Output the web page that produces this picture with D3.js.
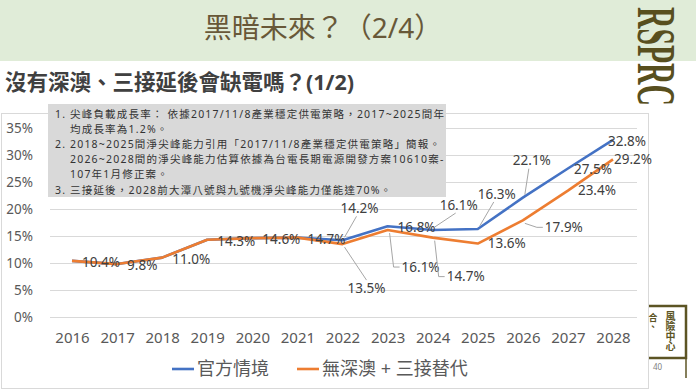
<!DOCTYPE html>
<html><head><meta charset="utf-8">
<script src="https://cdn.jsdelivr.net/npm/d3@7"></script>
<style>
html,body{margin:0;padding:0;background:#fff;}
svg{display:block;}
text{font-family:"Noto Sans","Noto Sans CJK TC",sans-serif;}
</style></head>
<body>
<svg id="c" width="696" height="391"></svg>
<script>
// ---------- data ----------
const years = ['2016','2017','2018','2019','2020','2021','2022','2023','2024','2025','2026','2027','2028'];
const official = [10.4, 9.8, 11.0, 14.3, 14.6, 14.7, 14.2, 16.8, 16.1, 16.3, 22.1, 27.5, 32.8];
const alternative = [10.4, 9.8, 11.0, 14.3, 14.6, 14.7, 13.5, 16.1, 14.7, 13.6, 17.9, 23.4, 29.2];
const yTicks = [0, 5, 10, 15, 20, 25, 30, 35];
const seriesNames = ['官方情境', '無深澳 + 三接替代'];
const title = '黑暗未來？（2/4）';
const subtitle = '沒有深澳、三接延後會缺電嗎？(1/2)';
const notes = [
  ['1.', '尖峰負載成長率： 依據2017/11/8產業穩定供電策略，2017~2025間年'],
  ['',   '均成長率為1.2%。'],
  ['2.', '2018~2025間淨尖峰能力引用「2017/11/8產業穩定供電策略」簡報。'],
  ['',   '2026~2028間的淨尖峰能力估算依據為台電長期電源開發方案10610案-'],
  ['',   '107年1月修正案。'],
  ['3.', '三接延後，2028前大潭八號與九號機淨尖峰能力僅能達70%。']
];

// ---------- layout (label placement, not data) ----------
const blank = null;
const labelLayout = {
  official: [blank, blank, blank, blank, blank, blank,
    {dx:-2, dy:-32, leader:'up'}, {dx:10, dy:1}, {dx:7, dy:-25, leader:'up'},
    {dx:0, dy:-35, leader:'up'}, {dx:-10, dy:-37, leader:'up'}, {dx:6, dy:1}, {dx:-5, dy:1}],
  alternative: [{dx:10, dy:1.5}, {dx:10, dy:1.5}, {dx:10, dy:1.5}, {dx:10, dy:1.5}, {dx:10, dy:1.5}, {dx:10, dy:1.5},
    {dx:5, dy:44, leader:'down'}, {dx:14, dy:37, leader:'elbow'}, {dx:14, dy:39, leader:'elbow'},
    {dx:10, dy:0}, {dx:22, dy:7, leader:'elbow'}, {dx:10, dy:0}, {dx:1, dy:0}]
};
const colors = ['#4472C4', '#ED7D31'];

const svg = d3.select('#c');

// header band
svg.append('rect').attr('x',0).attr('y',0).attr('width',696).attr('height',61).attr('fill','#e0ecd8');
svg.append('text').attr('x',323).attr('y',38).attr('text-anchor','middle')
  .attr('font-size',28).attr('fill','#685838').text(title);

// logo
svg.append('text').attr('transform','translate(638,7) rotate(90)')
  .attr('font-weight','bold')
  .attr('font-size',54).attr('fill','#584f1e')
  .attr('textLength',99).attr('lengthAdjust','spacingAndGlyphs').style('font-family','"Liberation Serif",serif')
  .text('RSPRC');

// subtitle
svg.append('text').attr('x',5).attr('y',90).attr('font-size',21.5).attr('font-weight','bold')
  .attr('fill','#404040').text(subtitle);

// chart frame
svg.append('rect').attr('x',1.5).attr('y',113.5).attr('width',647).attr('height',275)
  .attr('fill','#fff').attr('stroke','#d9d9d9');

// scales
const x = d3.scalePoint().domain(years).range([72, 613]);
const y = d3.scaleLinear().domain([0, 35]).range([317, 128]);

// gridlines
svg.append('g').selectAll('line').data(yTicks).join('line')
  .attr('x1',50).attr('x2',637).attr('y1',d=>y(d)+0.5).attr('y2',d=>y(d)+0.5)
  .attr('stroke','#d9d9d9').attr('stroke-width',1);

// y axis
const ya = svg.append('g').attr('transform','translate(35,0)')
  .call(d3.axisLeft(y).tickValues(yTicks).tickFormat(d=>d+'%').tickSize(0).tickPadding(2));
ya.select('.domain').remove();
ya.selectAll('text').attr('font-size',13.5).attr('fill','#595959').style('font-family','"Noto Sans",sans-serif');

// x axis
const xa = svg.append('g').attr('transform','translate(0,331)')
  .call(d3.axisBottom(x).tickSize(0).tickPadding(0));
xa.select('.domain').remove();
xa.selectAll('text').attr('font-size',15).attr('fill','#595959').attr('dy','0.35em').attr('y',7)
  .style('font-family','"Noto Sans",sans-serif');

// notes box
svg.append('rect').attr('x',48).attr('y',104).attr('width',398).attr('height',93).attr('fill','#d9d9d9');
const nt = svg.append('g').attr('font-size',10.5).attr('fill','#333').attr('letter-spacing',1.2);
notes.forEach((n,i)=>{
  const yy = 117.5 + i*15.2;
  if(n[0]) nt.append('text').attr('x',55).attr('y',yy).text(n[0]);
  nt.append('text').attr('x',70).attr('y',yy).text(n[1]);
});

// lines
const line = d3.line().x((d,i)=>x(years[i])).y(d=>y(d));
[official, alternative].forEach((s,k)=>{
  svg.append('path').datum(s).attr('d',line).attr('fill','none')
    .attr('stroke',colors[k]).attr('stroke-width',2.6).attr('stroke-linejoin','round');
});

// data labels
const lg = svg.append('g');
const leaders = svg.append('g');
[['official',official],['alternative',alternative]].forEach(([key,s])=>{
  s.forEach((v,i)=>{
    const L = labelLayout[key][i];
    if(!L) return;
    const px = x(years[i]), py = y(v);
    const left = px + L.dx, ly = py + L.dy;
    const t = lg.append('text').attr('x',left).attr('y',ly).attr('dy','0.35em')
      .attr('font-size',13.5).attr('fill','#404040').text(v.toFixed(1)+'%');
    const w = t.node().getComputedTextLength();
    const cx = left + w/2;
    let pts = null;
    if(L.leader==='up') pts = [[px+2,py-3],[cx-3,ly+8]];
    else if(L.leader==='down') pts = [[px+2,py+3],[cx,ly-8]];
    else if(L.leader==='elbow') pts = [[px+2,py+3],[left-8,ly],[left-2,ly]];
    if(pts) leaders.append('path').attr('d',d3.line()(pts)).attr('fill','none')
      .attr('stroke','#a6a6a6').attr('stroke-width',1);
  });
});

// legend
const leg = svg.append('g');
const legX = [172, 297];
seriesNames.forEach((n,k)=>{
  leg.append('line').attr('x1',legX[k]).attr('x2',legX[k]+22).attr('y1',369).attr('y2',369)
    .attr('stroke',colors[k]).attr('stroke-width',2.6);
  leg.append('text').attr('x',legX[k]+25).attr('y',369).attr('dy','0.35em')
    .attr('font-size',18).attr('fill','#595959').text(n);
});

// bottom-right mini logo
const ml = svg.append('g');
ml.append('path').attr('d','M649,306 H686 V358 H649').attr('fill','none').attr('stroke','#5c5424').attr('stroke-width',2.5);
ml.append('line').attr('x1',686).attr('x2',686).attr('y1',358).attr('y2',378).attr('stroke','#5c5424').attr('stroke-width',1.5);
ml.append('text').attr('x',670).attr('y',311)
  .style('writing-mode','vertical-rl').attr('font-size',10).attr('font-weight','bold')
  .attr('fill','#5c5424').text('風險中心');
ml.append('text').attr('x',653).attr('y',313)
  .style('writing-mode','vertical-rl').attr('font-size',9).attr('font-weight','bold')
  .attr('fill','#5c5424').text('合、');
ml.append('text').attr('x',653).attr('y',370).attr('font-size',8).attr('fill','#808080').text('40');
</script>
</body></html>
